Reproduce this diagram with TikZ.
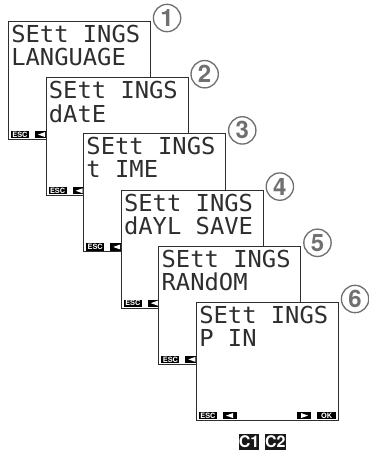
\documentclass[tikz,border=0pt]{standalone}
\usepackage{fontspec}
\usepackage{tikz}
\usetikzlibrary{positioning}

\newfontfamily\lcdfont{DejaVu Sans Mono}[FakeStretch=1.02]
\newfontfamily\keyfont{TeX Gyre Heros}
\definecolor{framegray}{HTML}{2E2E2E}
\definecolor{markgray}{HTML}{707070}

\tikzset{
  screen/.style={draw=framegray, line width=0.8pt, fill=white, inner sep=0pt,
    minimum width=106.5pt, minimum height=88.5pt, anchor=north west},
  lcdline/.style={anchor=north west, inner sep=0pt, text=framegray,
    font=\fontsize{17.5}{17.5}\lcdfont},
  key/.style={fill=black, text=white, inner sep=0pt, minimum height=5.5pt,
    font=\fontsize{5.5}{5.5}\keyfont\bfseries},
  keycap/.style={fill=black!90, text=white, inner sep=0pt, minimum width=14pt,
    minimum height=11.5pt, font=\fontsize{12}{12}\keyfont\bfseries},
  stepmark/.style={circle, draw=markgray, line width=1pt, fill=white, inner sep=0pt,
    minimum size=20.5pt, text=markgray, font=\fontsize{18}{18}\keyfont\bfseries}
}

\begin{document}
\begin{tikzpicture}[x=0.75pt, y=-0.75pt]
  \useasboundingbox (0,0) rectangle (368,453);

  % Screen 1
  \node[screen] (s1) at (8,21) {};
  \node[lcdline] (s1a) at ([shift={(3,4)}]s1.north west) {SEtt INGS};
  \node[lcdline] (s1b) at ([shift={(3,27)}]s1.north west) {LANGUAGE};
  \node[key, minimum width=13.5pt] (s1esc) at ([shift={(12,-5.5)}]s1.south west) {ESC};
  \node[key, minimum width=10.5pt] (s1l) at ([shift={(34,-5.5)}]s1.south west) {};
  \fill[white] ([shift={(-4,0)}]s1l.center) -- ++(7,-2.5) -- ++(0,5) -- cycle;
  \node[stepmark] (m1) at ([shift={(16,-3)}]s1.north east) {1};

  % Screen 2
  \node[screen] (s2) at (45.6,77.2) {};
  \node[lcdline] (s2a) at ([shift={(3,4)}]s2.north west) {SEtt INGS};
  \node[lcdline] (s2b) at ([shift={(3,27)}]s2.north west) {dAtE};
  \node[key, minimum width=13.5pt] (s2esc) at ([shift={(12,-5.5)}]s2.south west) {ESC};
  \node[key, minimum width=10.5pt] (s2l) at ([shift={(34,-5.5)}]s2.south west) {};
  \fill[white] ([shift={(-4,0)}]s2l.center) -- ++(7,-2.5) -- ++(0,5) -- cycle;
  \node[stepmark] (m2) at ([shift={(16,-3)}]s2.north east) {2};

  % Screen 3
  \node[screen] (s3) at (83.2,133.4) {};
  \node[lcdline] (s3a) at ([shift={(3,4)}]s3.north west) {SEtt INGS};
  \node[lcdline] (s3b) at ([shift={(3,27)}]s3.north west) {t IME};
  \node[key, minimum width=13.5pt] (s3esc) at ([shift={(12,-5.5)}]s3.south west) {ESC};
  \node[key, minimum width=10.5pt] (s3l) at ([shift={(34,-5.5)}]s3.south west) {};
  \fill[white] ([shift={(-4,0)}]s3l.center) -- ++(7,-2.5) -- ++(0,5) -- cycle;
  \node[stepmark] (m3) at ([shift={(16,-3)}]s3.north east) {3};

  % Screen 4
  \node[screen] (s4) at (120.8,189.6) {};
  \node[lcdline] (s4a) at ([shift={(3,4)}]s4.north west) {SEtt INGS};
  \node[lcdline] (s4b) at ([shift={(3,27)}]s4.north west) {dAYL SAVE};
  \node[key, minimum width=13.5pt] (s4esc) at ([shift={(12,-5.5)}]s4.south west) {ESC};
  \node[key, minimum width=10.5pt] (s4l) at ([shift={(34,-5.5)}]s4.south west) {};
  \fill[white] ([shift={(-4,0)}]s4l.center) -- ++(7,-2.5) -- ++(0,5) -- cycle;
  \node[stepmark] (m4) at ([shift={(16,-3)}]s4.north east) {4};

  % Screen 5
  \node[screen] (s5) at (158.4,245.8) {};
  \node[lcdline] (s5a) at ([shift={(3,4)}]s5.north west) {SEtt INGS};
  \node[lcdline] (s5b) at ([shift={(3,27)}]s5.north west) {RANdOM};
  \node[key, minimum width=13.5pt] (s5esc) at ([shift={(12,-5.5)}]s5.south west) {ESC};
  \node[key, minimum width=10.5pt] (s5l) at ([shift={(34,-5.5)}]s5.south west) {};
  \fill[white] ([shift={(-4,0)}]s5l.center) -- ++(7,-2.5) -- ++(0,5) -- cycle;
  \node[stepmark] (m5) at ([shift={(16,-3)}]s5.north east) {5};

  % Screen 6
  \node[screen] (s6) at (196,302) {};
  \node[lcdline] (s6a) at ([shift={(3,4)}]s6.north west) {SEtt INGS};
  \node[lcdline] (s6b) at ([shift={(3,27)}]s6.north west) {P IN};
  \node[key, minimum width=13.5pt] (s6esc) at ([shift={(12,-5.5)}]s6.south west) {ESC};
  \node[key, minimum width=10.5pt] (s6l) at ([shift={(34,-5.5)}]s6.south west) {};
  \fill[white] ([shift={(-4,0)}]s6l.center) -- ++(7,-2.5) -- ++(0,5) -- cycle;
  \node[key, minimum width=10.5pt] (s6r) at ([shift={(-35,-5.5)}]s6.south east) {};
  \fill[white] ([shift={(4,0)}]s6r.center) -- ++(-7,-2.5) -- ++(0,5) -- cycle;
  \node[key, minimum width=14pt] (s6ok) at ([shift={(-12.5,-5.5)}]s6.south east) {OK};
  \node[stepmark] (m6) at ([shift={(16,-3)}]s6.north east) {6};

  % Keys
  \node[keycap] (c1) at (249,442) {C1};
  \node[keycap, right=4pt of c1] (c2) {C2};
\end{tikzpicture}
\end{document}
